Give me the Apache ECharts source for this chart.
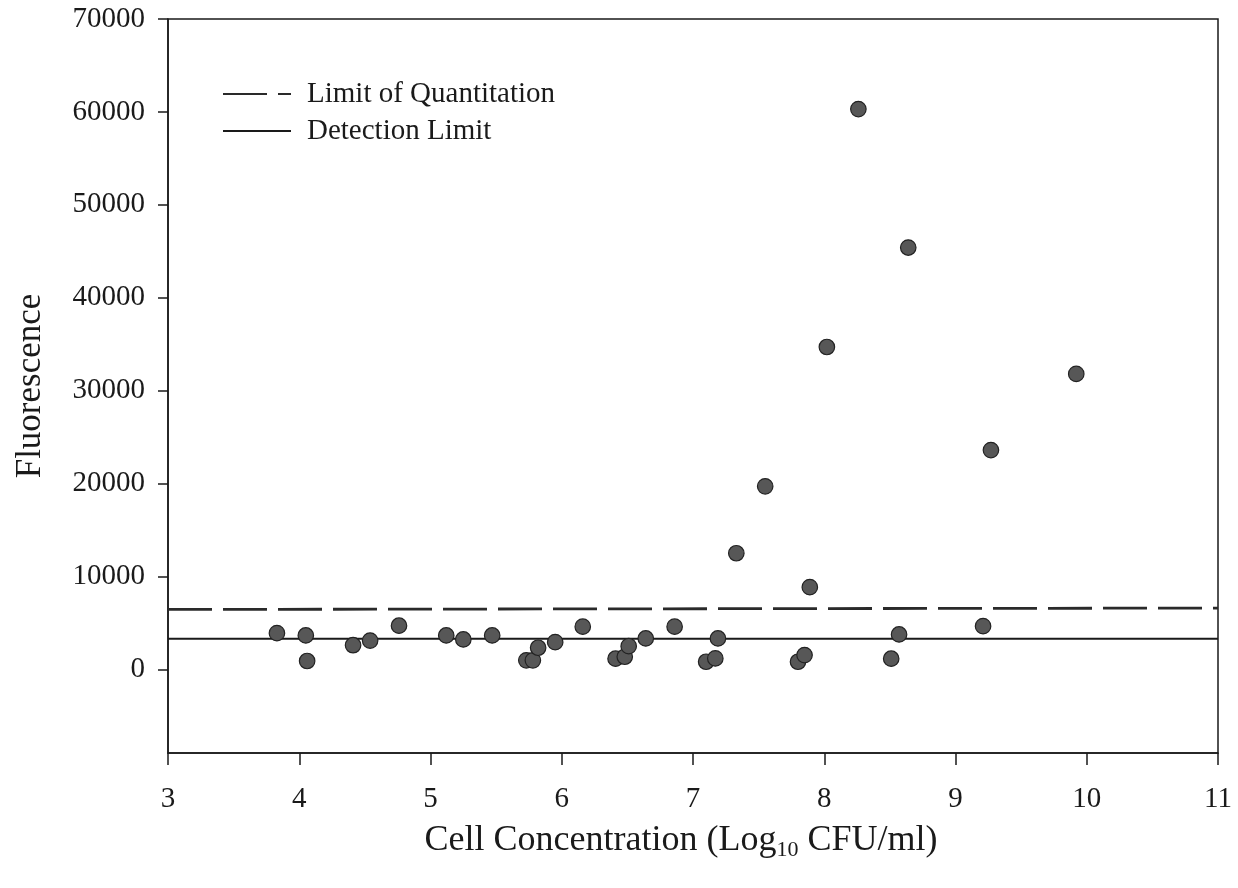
<!DOCTYPE html>
<html>
<head>
<meta charset="utf-8">
<script src="https://cdn.jsdelivr.net/npm/echarts@6/dist/echarts.min.js"></script>
<style>
  html, body { margin: 0; padding: 0; background: #ffffff; }
  #chart { width: 1238px; height: 888px; }
</style>
</head>
<body>
<div id="chart"></div>
<script>
// Measured samples: log10 cell concentration vs. fluorescence signal
const cellConcentration = [
  3.83, 4.05, 4.06, 4.41, 4.54, 4.76, 5.12, 5.25, 5.47, 5.73, 5.78, 5.82,
  5.95, 6.16, 6.41, 6.48, 6.51, 6.64, 6.86, 7.10, 7.17, 7.19, 7.33, 7.55,
  7.80, 7.85, 7.89, 8.02, 8.26, 8.51, 8.57, 8.64, 9.21, 9.27, 9.92
];
const fluorescence = [
  3900, 3650, 900, 2600, 3100, 4700, 3650, 3220, 3650, 970, 970, 2330,
  2930, 4600, 1150, 1360, 2500, 3330, 4600, 820, 1180, 3330, 12500, 19700,
  820, 1540, 8850, 34700, 60300, 1150, 3760, 45400, 4650, 23600, 31800
];

// Reference limits drawn across the full concentration range
const limitX = [3, 11];
const quantitationLimit = [6450, 6600];
const detectionLimit = [3300, 3300];

const xTicks = [3, 4, 5, 6, 7, 8, 9, 10, 11];
const yTicks = [0, 10000, 20000, 30000, 40000, 50000, 60000, 70000];

const serif = '"Liberation Serif", "Times New Roman", serif';
const ink = '#1a1a1a';

const chart = echarts.init(document.getElementById('chart'), null, { renderer: 'canvas' });

chart.setOption({
  backgroundColor: '#ffffff',
  animation: false,
  grid: {
    left: 168, right: 20, top: 19, bottom: 135,
    show: true, borderColor: ink, borderWidth: 1.5, backgroundColor: 'transparent'
  },
  legend: {
    orient: 'vertical',
    left: 222, top: 79,
    padding: 0,
    itemWidth: 68, itemHeight: 14, itemGap: 7,
    data: ['Limit of Quantitation', 'Detection Limit'],
    itemStyle: { opacity: 0 },
    textStyle: { fontFamily: serif, fontSize: 29, color: ink, lineHeight: 30, padding: [0, 0, 0, 11] },
    selectedMode: false
  },
  xAxis: {
    type: 'value',
    min: xTicks[0], max: xTicks[xTicks.length - 1], interval: 1,
    name: '{a|Cell Concentration (Log}{s|10}{a| CFU/ml)}',
    nameLocation: 'middle',
    nameGap: 68,
    nameTextStyle: {
      padding: [0, 24, 0, 0],
      rich: {
        a: { fontFamily: serif, fontSize: 36, color: ink },
        s: { fontFamily: serif, fontSize: 22, color: ink, padding: [18, 0, 0, 0] }
      }
    },
    axisLine: { show: true, onZero: false, lineStyle: { color: ink, width: 1.5 } },
    axisTick: { show: true, length: 12, lineStyle: { color: ink, width: 1.5 } },
    axisLabel: { fontFamily: serif, fontSize: 29, color: ink, margin: 32 },
    splitLine: { show: false }
  },
  yAxis: {
    type: 'value',
    min: -9000, max: 70000,
    name: 'Fluorescence',
    nameLocation: 'middle',
    nameGap: 120,
    nameTextStyle: { fontFamily: serif, fontSize: 35, color: ink },
    axisLine: { show: true, onZero: false, lineStyle: { color: ink, width: 1.5 } },
    axisTick: { show: true, length: 10, customValues: yTicks, lineStyle: { color: ink, width: 1.5 } },
    axisLabel: {
      fontFamily: serif, fontSize: 29, color: ink, margin: 23,
      customValues: yTicks,
      formatter: (v) => String(v)
    },
    splitLine: { show: false }
  },
  series: [
    {
      name: 'Limit of Quantitation',
      type: 'line',
      data: limitX.map((x, i) => [x, quantitationLimit[i]]),
      symbol: 'none',
      itemStyle: { color: '#2a2a2a' },
      lineStyle: { color: '#2a2a2a', width: 2.8, type: [44, 11] },
      z: 2
    },
    {
      name: 'Detection Limit',
      type: 'line',
      data: limitX.map((x, i) => [x, detectionLimit[i]]),
      symbol: 'none',
      itemStyle: { color: '#1a1a1a' },
      lineStyle: { color: '#1a1a1a', width: 2, type: 'solid' },
      z: 2
    },
    {
      name: 'Samples',
      type: 'scatter',
      data: cellConcentration.map((x, i) => [x, fluorescence[i]]),
      symbol: 'circle',
      symbolSize: 15.5,
      itemStyle: { color: '#575757', borderColor: '#222222', borderWidth: 1.2, opacity: 1 },
      z: 3
    }
  ]
});
</script>
</body>
</html>
